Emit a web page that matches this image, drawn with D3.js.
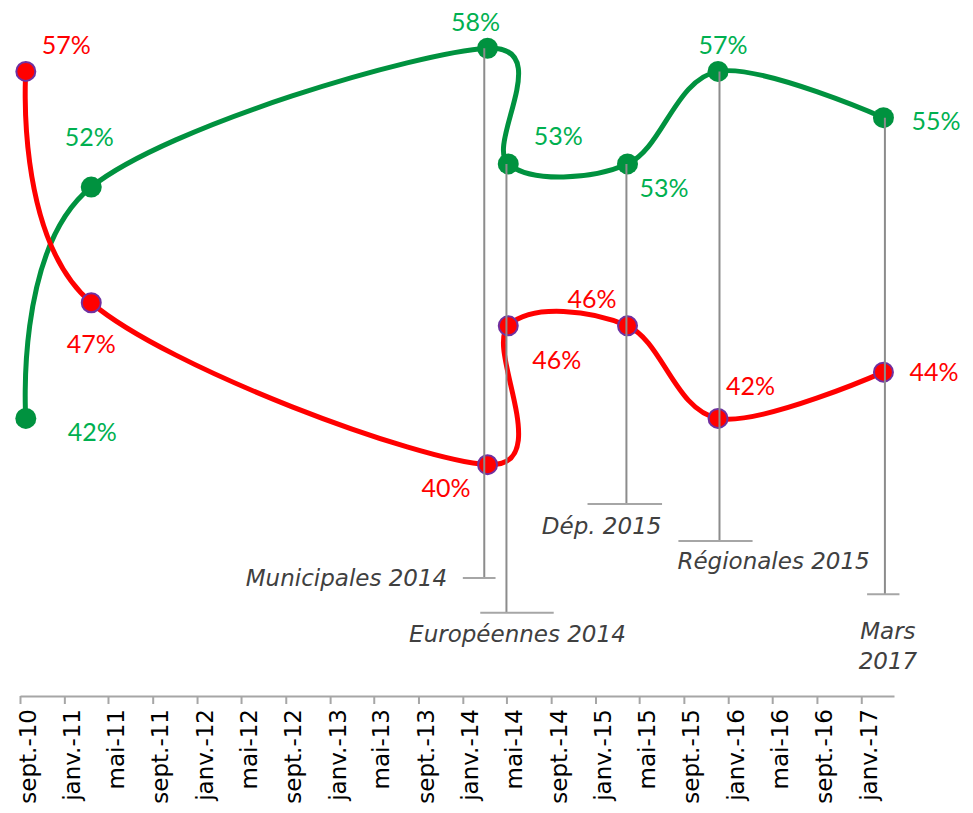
<!DOCTYPE html>
<html>
<head>
<meta charset="utf-8">
<script src="https://cdn.jsdelivr.net/npm/d3@7"></script>
<style>
    body { margin: 0; background: #fff; }
    svg { display: block; }
</style>
</head>
<body>
<div id="chart"></div>
<script>
// poll dates and the two series (in %)
const pollDates = ["2010-09-17", "2011-03-16", "2014-03-10", "2014-05-06", "2015-03-30", "2015-12-04", "2017-03-03"];
const greenValues = [42, 52, 58, 53, 53, 57, 55];
const redValues = [57, 47, 40, 46, 46, 42, 44];

// election markers
const eventLabels = ["Municipales 2014", "Européennes 2014", "Dép. 2015", "Régionales 2015", "Mars 2017"];
const eventDates = ["2014-03-01", "2014-05-01", "2015-03-27", "2015-12-08", "2017-03-07"];
const eventPoint = [2, 3, 4, 5, 6];
const eventLow = [35.1, 33.6, 38.3, 36.7, 34.4];
const capStart = ["2014-01-01", "2014-02-18", "2014-12-10", "2015-08-17", "2017-01-17"];
const capEnd = ["2014-04-01", "2014-09-08", "2015-07-03", "2016-03-08", "2017-04-16"];

// label placement (layout only)
const greenLabelPos = [["start", 42, 14], ["middle", -2, -50], ["middle", -12, -26], ["middle", 50, -28],
    ["start", 12, 24], ["middle", 5, -26], ["start", 28, 3]];
const redLabelPos = [["start", 16, -26], ["middle", 0, 41], ["end", -17, 23], ["start", 24, 34],
    ["end", -11, -27], ["start", 8, -32], ["start", 26, 0]];
const eventLabelPos = [["end", -37, 8], ["middle", 11, 29], ["end", 35, 30], ["start", -42, 28], ["middle", 3, 45]];

const width = 973, height = 813;
const parse = d3.timeParse("%Y-%m-%d");
const monthNames = { 0: "janv.", 4: "mai", 8: "sept." };

const svg = d3.select("#chart").append("svg")
    .attr("width", width)
    .attr("height", height);

const xScale = d3.scaleTime()
    .domain([new Date(2010, 8, 1), new Date(2017, 3, 1)])
    .range([20, 894]);
const yScale = d3.scaleLinear()
    .domain([30, 60])
    .range([696, 2]);

// x axis
const xAxisCall = d3.axisBottom(xScale)
    .ticks(d3.timeMonth.every(4))
    .tickSize(8)
    .tickSizeOuter(0)
    .tickFormat(d => monthNames[d.getMonth()] + "-" + d3.timeFormat("%y")(d));

const xAxisGroup = svg.append("g")
    .attr("transform", `translate(0, 696)`)
    .call(xAxisCall);
xAxisGroup.select(".domain").attr("stroke", "#a6a6a6").attr("stroke-width", 2);
xAxisGroup.selectAll(".tick line").attr("stroke", "#a6a6a6").attr("stroke-width", 2);
xAxisGroup.selectAll(".tick text")
    .attr("transform", "rotate(-90)")
    .attr("x", -13)
    .attr("y", 7)
    .attr("dy", "0.35em")
    .attr("text-anchor", "end")
    .attr("fill", "#000")
    .style("font-family", "DejaVu Sans")
    .style("font-size", "23px");

const greenData = pollDates.map((d, i) => ({ date: parse(d), value: greenValues[i] }));
const redData = pollDates.map((d, i) => ({ date: parse(d), value: redValues[i] }));

const lineMapper = d3.line()
    .x(d => xScale(d.date))
    .y(d => yScale(d.value))
    .curve(d3.curveCardinal.tension(0));

const chart = svg.append("g");

chart.append("path")
    .datum(greenData)
    .attr("d", lineMapper)
    .attr("fill", "none")
    .attr("stroke", "#00923f")
    .attr("stroke-width", 5);

chart.append("path")
    .datum(redData)
    .attr("d", lineMapper)
    .attr("fill", "none")
    .attr("stroke", "#ff0000")
    .attr("stroke-width", 5);

chart.selectAll(".green-dot").data(greenData).enter().append("circle")
    .attr("class", "green-dot")
    .attr("cx", d => xScale(d.date))
    .attr("cy", d => yScale(d.value))
    .attr("r", 10.5)
    .attr("fill", "#00923f");

chart.selectAll(".red-dot").data(redData).enter().append("circle")
    .attr("class", "red-dot")
    .attr("cx", d => xScale(d.date))
    .attr("cy", d => yScale(d.value))
    .attr("r", 9.5)
    .attr("fill", "#ff0000")
    .attr("stroke", "#7030a0")
    .attr("stroke-width", 2);

// value labels
function addLabels(data, pos, color) {
    chart.selectAll(null).data(data).enter().append("text")
        .attr("x", (d, i) => xScale(d.date) + pos[i][1])
        .attr("y", (d, i) => yScale(d.value) + pos[i][2])
        .attr("dy", "0.36em")
        .attr("text-anchor", (d, i) => pos[i][0])
        .attr("fill", color)
        .style("font-family", "Lato")
        .style("font-size", "25px")
        .text(d => d.value + "%");
}
addLabels(greenData, greenLabelPos, "#00b050");
addLabels(redData, redLabelPos, "#ff0000");

// election markers: vertical line with a cap, and a label
const events = eventLabels.map((label, i) => ({
    label,
    date: parse(eventDates[i]),
    top: Math.max(greenValues[eventPoint[i]], redValues[eventPoint[i]]),
    low: eventLow[i],
    capStart: parse(capStart[i]),
    capEnd: parse(capEnd[i]),
    pos: eventLabelPos[i]
}));

const eventGroup = svg.append("g");
events.forEach(e => {
    const ex = xScale(e.date);
    const ey = yScale(e.low);
    eventGroup.append("line")
        .attr("x1", ex).attr("x2", ex)
        .attr("y1", yScale(e.top)).attr("y2", ey)
        .attr("stroke", "#8c8c8c")
        .attr("stroke-width", 2);
    eventGroup.append("line")
        .attr("x1", xScale(e.capStart)).attr("x2", xScale(e.capEnd))
        .attr("y1", ey).attr("y2", ey)
        .attr("stroke", "#a6a6a6")
        .attr("stroke-width", 2);
    const words = e.label === "Mars 2017" ? ["Mars", "2017"] : [e.label];
    const t = eventGroup.append("text")
        .attr("text-anchor", e.pos[0])
        .attr("fill", "#404040")
        .style("font-family", "DejaVu Sans")
        .style("font-style", "italic")
        .style("font-size", "23px");
    words.forEach((w, k) => {
        t.append("tspan")
            .attr("x", ex + e.pos[1])
            .attr("y", ey + e.pos[2] + k * 30)
            .text(w);
    });
});
</script>
</body>
</html>
